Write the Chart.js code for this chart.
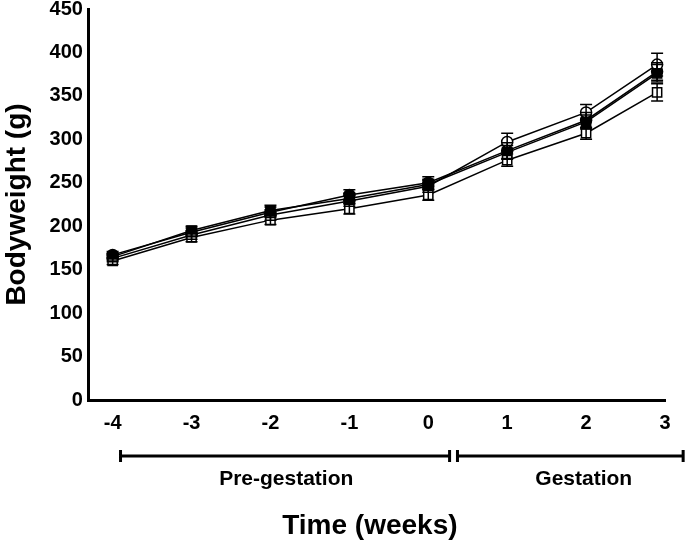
<!DOCTYPE html>
<html>
<head>
<meta charset="utf-8">
<script src="https://cdn.jsdelivr.net/npm/chart.js@4"></script>
<style>
  html, body { margin: 0; padding: 0; background: #fff; }
  #wrap { width: 685px; height: 546px; }
</style>
</head>
<body>
<div id="wrap"><canvas id="chart" width="685" height="546"></canvas></div>
<script>
// weeks relative to conception
const weeks = [-4, -3, -2, -1, 0, 1, 2, 2.9];
const xTicks = [-4, -3, -2, -1, 0, 1, 2, 3];
const yTicks = [0, 50, 100, 150, 200, 250, 300, 350, 400, 450];

const filledCircle = [167, 193, 216, 236, 250, 287, 322, 378];
const filledCircleSem = [4, 5, 6, 6, 7, 9, 9, 10];
const openCircle = [163, 190, 213, 229, 246, 297, 331, 386];
const openCircleSem = [4, 5, 6, 6, 7, 10, 9, 13];
const filledSquare = [165, 195, 218, 232, 248, 285, 320, 376];
const filledSquareSem = [4, 5, 6, 6, 6, 8, 8, 10];
const openSquare = [160, 187, 207, 220, 236, 276, 307, 354];
const openSquareSem = [4, 5, 5, 6, 6, 7, 7, 10];

// bracket spans under the x axis (in weeks)
const periods = ["Pre-gestation", "Gestation"];
const periodStart = [-3.9, 0.37];
const periodEnd = [0.27, 3.23];
const periodLabelAt = [-1.8, 1.97];

const FONT = "'Liberation Sans', Arial, sans-serif";

function makeSet(label, values, sem, style, fill) {
    return {
        label: label,
        data: weeks.map((w, i) => ({ x: w, y: values[i] })),
        sem: sem,
        borderColor: "#000",
        borderWidth: 1.5,
        pointStyle: style,
        pointRadius: style === "rect" ? 6.5 : 5.5,
        pointBorderWidth: 1.5,
        pointBorderColor: "#000",
        pointBackgroundColor: fill,
        tension: 0
    };
}

const errorBars = {
    id: "errorBars",
    afterDatasetsDraw(chart) {
        const ctx = chart.ctx;
        const y = chart.scales.y;
        ctx.save();
        ctx.strokeStyle = "#000";
        ctx.lineWidth = 1.5;
        chart.data.datasets.forEach((ds, di) => {
            const meta = chart.getDatasetMeta(di);
            meta.data.forEach((pt, i) => {
                const v = ds.data[i].y;
                const top = y.getPixelForValue(v + ds.sem[i]);
                const bot = y.getPixelForValue(v - ds.sem[i]);
                ctx.beginPath();
                ctx.moveTo(pt.x, top); ctx.lineTo(pt.x, bot);
                ctx.moveTo(pt.x - 6, top); ctx.lineTo(pt.x + 6, top);
                ctx.moveTo(pt.x - 6, bot); ctx.lineTo(pt.x + 6, bot);
                ctx.stroke();
            });
        });
        ctx.restore();
    }
};

const brackets = {
    id: "brackets",
    afterDraw(chart) {
        const ctx = chart.ctx;
        const x = chart.scales.x;
        const by = 456;
        ctx.save();
        ctx.strokeStyle = "#000";
        ctx.fillStyle = "#000";
        ctx.lineWidth = 3;
        ctx.textAlign = "center";
        ctx.textBaseline = "middle";
        ctx.font = "bold 21px " + FONT;
        periods.forEach((name, i) => {
            const x1 = x.getPixelForValue(periodStart[i]);
            const x2 = x.getPixelForValue(periodEnd[i]);
            ctx.beginPath();
            ctx.moveTo(x1, by); ctx.lineTo(x2, by);
            ctx.moveTo(x1, by - 6); ctx.lineTo(x1, by + 6);
            ctx.moveTo(x2, by - 6); ctx.lineTo(x2, by + 6);
            ctx.stroke();
            ctx.fillText(name, x.getPixelForValue(periodLabelAt[i]), by + 23);
        });
        ctx.font = "bold 28px " + FONT;
        ctx.fillText("Time (weeks)", x.getPixelForValue(-0.74), 526);
        ctx.restore();
    }
};

new Chart(document.getElementById("chart"), {
    type: "line",
    data: {
        datasets: [
            makeSet("A", openSquare, openSquareSem, "rect", "#fff"),
            makeSet("B", filledSquare, filledSquareSem, "rect", "#000"),
            makeSet("C", openCircle, openCircleSem, "circle", "#fff"),
            makeSet("D", filledCircle, filledCircleSem, "circle", "#000")
        ]
    },
    options: {
        responsive: false,
        animation: false,
        layout: { padding: { top: 0, right: 20, bottom: 105, left: 0 } },
        plugins: { legend: { display: false }, tooltip: { enabled: false } },
        scales: {
            x: {
                type: "linear",
                min: -4.3,
                max: 3,
                afterBuildTicks: axis => { axis.ticks = xTicks.map(v => ({ value: v })); },
                grid: { display: false, drawTicks: true, tickLength: 5, tickColor: "#000", tickWidth: 2 },
                border: { color: "#000", width: 3 },
                ticks: {
                    color: "#000",
                    padding: 6,
                    font: { family: FONT, size: 20, weight: "bold" }
                }
            },
            y: {
                min: 0,
                max: 450,
                afterBuildTicks: axis => { axis.ticks = yTicks.map(v => ({ value: v })); },
                grid: { display: false, drawTicks: true, tickLength: 5, tickColor: "#000", tickWidth: 2 },
                border: { color: "#000", width: 3 },
                ticks: {
                    color: "#000",
                    padding: 1,
                    font: { family: FONT, size: 20, weight: "bold", lineHeight: 0.8 }
                },
                title: {
                    display: true,
                    text: "Bodyweight (g)",
                    color: "#000",
                    padding: { top: 0, bottom: 15 },
                    font: { family: FONT, size: 28, weight: "bold" }
                }
            }
        }
    },
    plugins: [errorBars, brackets]
});
</script>
</body>
</html>
